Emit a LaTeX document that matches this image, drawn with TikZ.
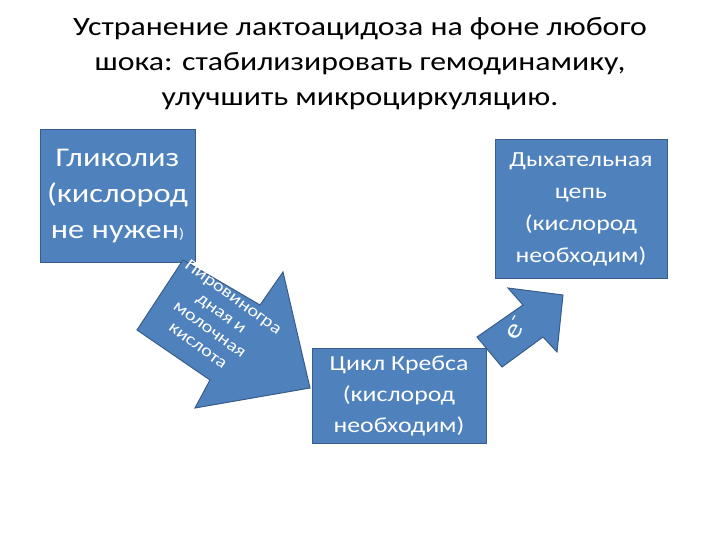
\documentclass[tikz,border=0pt]{standalone}
\usepackage{fontspec}
\setmainfont{Carlito}[FakeStretch=1.2]
\begin{document}
\begin{tikzpicture}[x=1pt,y=-1pt,
  blu/.style={fill=myblue,draw=myedge,line width=1pt},
  btxt/.style={text=white,align=center}]
\definecolor{myblue}{HTML}{4F81BD}
\definecolor{myedge}{HTML}{385D8A}
\useasboundingbox (0,0) rectangle (720,540);
\node[align=center,font=\fontsize{26.5}{35}\selectfont] (title) at (360,64)
  {Устранение лактоацидоза на фоне любого\\шока: стабилизировать гемодинамику,\\улучшить микроциркуляцию.};
\node[blu,btxt,minimum width=155,minimum height=132,inner sep=0,font=\fontsize{27}{36}\selectfont] (gly) at (117.5,196)
  {Гликолиз\\(кислород\\не нужен{\fontsize{14}{14}\selectfont)}};
\node[blu,btxt,minimum width=172,minimum height=138,inner sep=0,font=\fontsize{21.5}{32}\selectfont] (resp) at (581,209)
  {Дыхательная\\цепь\\(кислород\\необходим)};
\node[blu,btxt,minimum width=174,minimum height=95,inner sep=0,font=\fontsize{21.5}{31}\selectfont] (krebs) at (399,395.5)
  {Цикл Кребса\\(кислород\\необходим)};
\draw[blu] (183,260) -- (260,305) -- (283,272) -- (310,388) -- (195,408) -- (210,380) -- (137,330) -- cycle;
\node[btxt,rotate=-36,font=\fontsize{17}{20}\selectfont,inner sep=0] (pyr) at (216,321)
  {Пировиногра\\дная и\\молочная\\кислота};
\draw[blu] (477,337) -- (523,305) -- (508,288) -- (563,295) -- (557,352) -- (543,337) -- (502,367) -- cycle;
\node[btxt,rotate=60,font=\fontsize{26}{26}\selectfont,inner sep=0] (el) at (516,328) {e\textsuperscript{-}};
\end{tikzpicture}
\end{document}
